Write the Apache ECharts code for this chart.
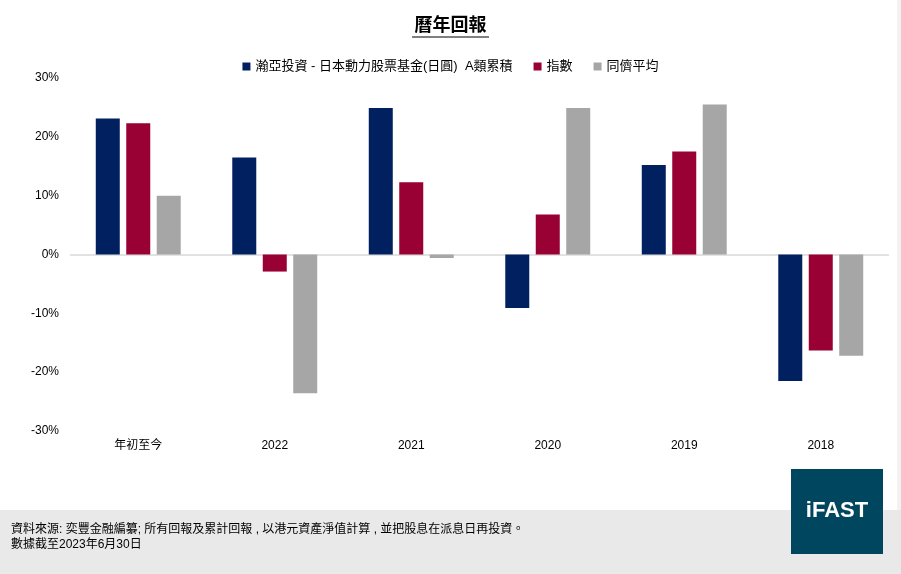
<!DOCTYPE html>
<html>
<head>
<meta charset="utf-8">
<script src="https://cdn.jsdelivr.net/npm/echarts@6/dist/echarts.min.js"></script>
<style>
  html, body { margin: 0; padding: 0; background: #fff; }
  #chart { width: 901px; height: 574px; }
</style>
</head>
<body>
<div id="chart"></div>
<script>
// 數據 (%)
const categories = ["年初至今", "2022", "2021", "2020", "2019", "2018"];
const seriesNames = ["瀚亞投資 - 日本動力股票基金(日圓)  A類累積", "指數", "同儕平均"];
const fundValues = [23.1, 16.5, 24.9, -9.1, 15.2, -21.5];
const indexValues = [22.3, -2.9, 12.3, 6.8, 17.5, -16.3];
const peerValues = [10.0, -23.6, -0.6, 24.9, 25.5, -17.2];
const colors = ["#002060", "#990033", "#A6A6A6"];

const FONT = "'Liberation Sans', 'Noto Sans CJK TC', sans-serif";

const chart = echarts.init(document.getElementById("chart"), null, { renderer: "canvas" });

function barSeries(name, data, color, withZero) {
  const s = {
    name: name,
    type: "bar",
    data: data,
    barWidth: 24,
    barGap: "27%",
    itemStyle: { color: color },
    emphasis: { disabled: true }
  };
  if (withZero) {
    s.markLine = {
      silent: true,
      symbol: "none",
      label: { show: false },
      lineStyle: { color: "#d9d9d9", type: "solid", width: 1.5 },
      data: [{ yAxis: 0 }],
      z: 1
    };
  }
  return s;
}

const option = {
  animation: false,
  textStyle: { fontFamily: FONT },
  legend: {
    top: 55,
    left: "center",
    icon: "rect",
    itemWidth: 8,
    itemHeight: 8,
    itemGap: 21,
    textStyle: { fontSize: 13, color: "#000", fontFamily: FONT },
    data: seriesNames
  },
  grid: {
    left: 70,
    right: 12,
    top: 78,
    bottom: 143,
    containLabel: false
  },
  xAxis: {
    type: "category",
    data: categories,
    axisLine: { show: false },
    axisTick: { show: false },
    axisLabel: { color: "#000", fontSize: 12, margin: 9, fontFamily: FONT }
  },
  yAxis: {
    type: "value",
    min: -30,
    max: 30,
    interval: 10,
    axisLine: { show: false },
    axisTick: { show: false },
    splitLine: { show: false },
    axisLabel: { color: "#000", fontSize: 12, margin: 11, formatter: "{value}%", fontFamily: FONT }
  },
  series: [
    barSeries(seriesNames[0], fundValues, colors[0], true),
    barSeries(seriesNames[1], indexValues, colors[1], false),
    barSeries(seriesNames[2], peerValues, colors[2], false)
  ],
  graphic: [
    // 標題
    {
      type: "text",
      left: "center",
      top: 17,
      style: { text: "曆年回報", font: "bold 18px " + FONT, fill: "#000" }
    },
    {
      type: "line",
      shape: { x1: 412, y1: 37, x2: 489, y2: 37 },
      style: { stroke: "#000", lineWidth: 1 }
    },
    // 頁腳
    {
      type: "rect",
      shape: { x: 0, y: 510, width: 901, height: 64 },
      style: { fill: "#e9e9e9" },
      z: 0
    },
    {
      type: "rect",
      shape: { x: 897, y: 0, width: 4, height: 510 },
      style: { fill: "#f2f2f2" },
      z: 0
    },
    {
      type: "text",
      left: 11,
      top: 522,
      style: {
        text: "資料來源: 奕豐金融編纂; 所有回報及累計回報 , 以港元資產淨值計算 , 並把股息在派息日再投資。\n數據截至2023年6月30日",
        font: "12px " + FONT,
        fill: "#000",
        lineHeight: 15
      }
    },
    {
      type: "rect",
      shape: { x: 791, y: 469, width: 92, height: 85 },
      style: { fill: "#00465F" }
    },
    {
      type: "text",
      x: 837,
      y: 511,
      style: {
        text: "iFAST",
        font: "bold 22px " + FONT,
        fill: "#fff",
        textAlign: "center",
        textVerticalAlign: "middle"
      }
    }
  ]
};

chart.setOption(option);
</script>
</body>
</html>
